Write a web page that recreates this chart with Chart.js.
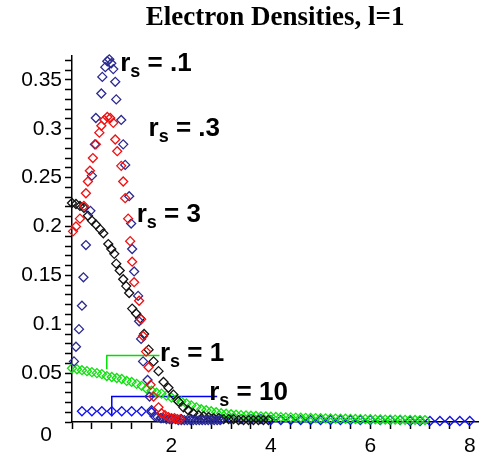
<!DOCTYPE html>
<html>
<head>
<meta charset="utf-8">
<script src="https://cdn.jsdelivr.net/npm/chart.js@4.4.1/dist/chart.umd.min.js"></script>
<style>
	html, body { margin:0; padding:0; background:#fff; }
	canvas { display:block; }
</style>
</head>
<body>
<canvas id="c" width="484" height="464"></canvas>
<script>
// r_s = .1
const rs01X = [0.04,0.08,0.14,0.20,0.23,0.28,0.37,0.40,0.46,0.48,0.59,0.61,0.67,0.71,0.75,0.79,0.83,0.87,0.89,0.99,1.03,1.07,1.15,1.19,1.21,1.25,1.33,1.35,1.39,1.43,1.52,1.56,1.60,
	1.66,1.72,1.78,1.84,1.90,1.96,2.02,2.08,2.14,2.20,2.26,2.32,2.38,2.44,2.50,2.56,2.62,2.68,2.74,2.80,2.86,2.92,2.98]
const rs01Y = [0.062,0.077,0.095,0.119,0.148,0.181,0.216,0.252,0.284,0.311,0.336,0.353,0.363,0.369,0.371,0.367,0.361,0.348,0.330,0.309,0.284,0.263,0.231,0.203,0.177,0.154,0.129,0.103,0.085,0.062,0.043,0.026,0.012,
	0.006,0.005,0.004,0.004,0.003,0.003,0.003,0.003,0.002,0.002,0.002,0.002,0.002,0.002,0.002,0.002,0.002,0.002,0.002,0.002,0.002,0.002,0.002]

// r_s = .3
const rs03X = [0.02,0.08,0.16,0.24,0.28,0.32,0.36,0.42,0.48,0.55,0.59,0.65,0.71,0.77,0.83,0.87,0.91,0.99,1.03,1.07,1.13,1.17,1.21,1.25,1.35,1.39,1.43,1.49,1.54,1.58,1.64,1.74,1.80,1.87,1.94,2.00,2.06,2.12,2.18]
const rs03Y = [0.195,0.200,0.208,0.221,0.234,0.246,0.257,0.270,0.284,0.296,0.303,0.309,0.312,0.311,0.306,0.289,0.277,0.262,0.246,0.229,0.208,0.185,0.164,0.143,0.124,0.105,0.088,0.072,0.056,0.038,0.026,0.015,0.009,0.007,0.005,0.004,0.004,0.003,0.003]

// r_s = 3
const rs3X = [0.00,0.08,0.16,0.24,0.32,0.40,0.48,0.57,0.63,0.73,0.79,0.85,0.89,0.96,1.03,1.09,1.15,1.21,1.29,1.37,1.45,1.54,1.64,1.74,1.84,1.94,2.04,2.14,2.24,2.34,2.44,2.55,2.65,2.75,2.85,2.95,3.05,3.15,3.25,3.35,3.45,3.55,3.65,3.75,3.85,3.95]
const rs3Y = [0.224,0.223,0.221,0.219,0.211,0.206,0.202,0.197,0.193,0.182,0.177,0.172,0.162,0.155,0.146,0.139,0.132,0.116,0.111,0.106,0.090,0.074,0.062,0.052,0.041,0.035,0.028,0.021,0.015,0.012,0.009,0.007,0.006,0.005,0.004,0.004,0.003,0.003,0.003,0.002,0.002,0.002,0.002,0.002,0.002,0.002]

// r_s = 1
const rs1X = [0.0,0.1,0.2,0.3,0.4,0.5,0.6,0.7,0.8,0.9,1.0,1.1,1.2,1.3,1.4,1.5,1.6,1.7,1.8,1.9,2.0,2.1,2.2,2.3,2.4,2.5,2.6,2.7,2.8,2.9,3.0,3.1,3.2,3.3,3.4,3.5,
	3.6,3.7,3.8,3.9,4.0,4.1,4.2,4.3,4.4,4.5,4.6,4.7,4.8,4.9,5.0,5.1,5.2,5.3,5.4,5.5,5.6,5.7,5.8,5.9,6.0,6.1,6.2,6.3,6.4,6.5,6.6,6.7,6.8,6.9,7.0,7.1]
const rs1Y = [0.055,0.054,0.053,0.052,0.051,0.050,0.049,0.047,0.046,0.045,0.044,0.042,0.041,0.039,0.037,0.034,0.032,0.030,0.029,0.027,0.025,0.023,0.021,0.019,0.017,0.015,0.013,0.012,0.011,0.010,0.009,0.0085,0.008,0.0075,0.007,0.0067,
	0.0064,0.0061,0.0058,0.0056,0.0054,0.0052,0.0050,0.0048,0.0047,0.0045,0.0044,0.0042,0.0041,0.0040,0.0038,0.0037,0.0036,0.0035,0.0034,0.0033,0.0032,0.0031,0.0030,0.0029,0.0028,0.0027,0.0026,0.0025,0.0025,0.0024,0.0023,0.0022,0.0022,0.0021,0.0020,0.0020]

// r_s = 10
const rs10X = [0.2,0.4,0.6,0.8,1.0,1.2,1.4,1.6,1.8,2.0,2.2,2.4,2.6,2.8,3.0,3.2,3.4,3.6,3.8,4.0,4.2,4.4,4.6,4.8,5.0,5.2,5.4,5.6,5.8,6.0,6.2,6.4,6.6,6.8,7.0,7.2,7.4,7.6,7.8,8.0]
const rs10Y = [0.011,0.011,0.011,0.011,0.011,0.011,0.011,0.010,0.004,0.003,0.003,0.003,0.003,0.003,0.003,0.003,0.003,0.003,0.003,0.002,0.002,0.002,0.002,0.002,0.002,0.002,0.002,0.002,0.002,0.002,0.002,0.002,0.002,0.001,0.001,0.001,0.001,0.001,0.001,0.001]

// curve names and where they sit (left of the r, on its baseline)
const labelNames = ['.1', '.3', '3', '1', '10']
const labelX = [0.97, 1.54, 1.30, 1.77, 2.76]
const labelY = [0.359, 0.293, 0.205, 0.062, 0.023]

const greenLeadX = [0.70, 0.70, 1.76]
const greenLeadY = [0.054, 0.068, 0.068]
const blueLeadX = [0.80, 0.80, 2.92]
const blueLeadY = [0.006, 0.026, 0.026]

const yLabelVals = [0, 0.05, 0.1, 0.15, 0.2, 0.25, 0.3, 0.35]
const xLabelVals = [2, 4, 6, 8]

const pts = (xs, ys) => xs.map((x, i) => ({x, y:ys[i]}))

const diamonds = (label, xs, ys, color) => ({
	label, data:pts(xs, ys), showLine:false, clip:false,
	pointStyle:'rectRot', pointRadius:4.5, pointBorderWidth:1.3,
	pointBorderColor:color, pointBackgroundColor:'rgba(0,0,0,0)', borderColor:color,
})

const lead = (xs, ys, color) => ({
	data:pts(xs, ys), showLine:true, pointRadius:0, borderColor:color, borderWidth:1.5, fill:false, tension:0, clip:false,
})

const rsLabels = {
	id:'rsLabels',
	afterDatasetsDraw: c => {
		const ctx = c.ctx, sx = c.scales.x, sy = c.scales.y
		ctx.save()
		ctx.fillStyle = '#000'
		ctx.textBaseline = 'alphabetic'
		ctx.textAlign = 'left'
		labelNames.forEach((n, i) => {
			let px = sx.getPixelForValue(labelX[i])
			const py = sy.getPixelForValue(labelY[i])
			ctx.font = 'bold 26px "Liberation Sans"'
			ctx.fillText('r', px, py)
			px += ctx.measureText('r').width
			ctx.font = 'bold 18px "Liberation Sans"'
			ctx.fillText('s', px, py + 6)
			px += ctx.measureText('s').width
			ctx.font = 'bold 26px "Liberation Sans"'
			ctx.fillText(' = ' + n, px, py)
		})
		ctx.restore()
	}
}

new Chart(document.getElementById('c'), {
	type:'scatter',
	data: {
		datasets: [
			diamonds('r_s = .3', rs03X, rs03Y, '#f01010'),
			diamonds('r_s = .1', rs01X, rs01Y, '#2a2a90'),
			diamonds('r_s = 3', rs3X, rs3Y, '#111111'),
			diamonds('r_s = 1', rs1X, rs1Y, '#10e010'),
			diamonds('r_s = 10', rs10X, rs10Y, '#1010f0'),
			lead(greenLeadX, greenLeadY, '#00dd00'),
			lead(blueLeadX, blueLeadY, '#0000ee'),
		]
	},
	options: {
		responsive:false,
		devicePixelRatio:1,
		animation:false,
		layout: { padding:{ left:0, right:4, top:0, bottom:0 } },
		plugins: {
			legend: { display:false },
			tooltip: { enabled:false },
			title: {
				display:true,
				text:'Electron Densities, l=1',
				fullSize:false,
				color:'#000',
				font:{ family:'Liberation Serif', size:27, weight:'bold' },
				padding:{ top:2, bottom:21 },
			},
		},
		scales: {
			x: {
				type:'linear', min:0, max:8.17,
				afterBuildTicks: s => {
					s.ticks = []
					for (let i = 0; i <= 20; i++) s.ticks.push({ value:+(i * 0.4).toFixed(1) })
				},
				afterFit: s => { s.height = 42 },
				ticks: {
					color:'#000', font:{ family:'Liberation Sans', size:21 }, padding:5,
					maxRotation:0, autoSkip:false,
					callback: v => xLabelVals.includes(v) ? String(v) : '',
				},
				grid: { drawOnChartArea:false, tickLength:7, color:'#000', tickWidth:1.5 },
				border: { color:'#000', width:1.5 },
			},
			y: {
				type:'linear', min:0, max:0.375,
				afterBuildTicks: s => {
					s.ticks = []
					for (let i = 0; i <= 37; i++) s.ticks.push({ value:+(i * 0.01).toFixed(2) })
				},
				afterFit: s => { s.width = 72 },
				ticks: {
					color:'#000', font:{ family:'Liberation Sans', size:21, lineHeight:1.3 }, padding:3,
					autoSkip:false,
					callback: v => yLabelVals.includes(v) ? (v === 0 ? ['', '0 \u2009'] : String(v)) : '',
				},
				grid: { drawOnChartArea:false, tickLength:7, color:'#000', tickWidth:1.5 },
				border: { color:'#000', width:1.5 },
			},
		},
	},
	plugins:[rsLabels],
})
</script>
</body>
</html>
